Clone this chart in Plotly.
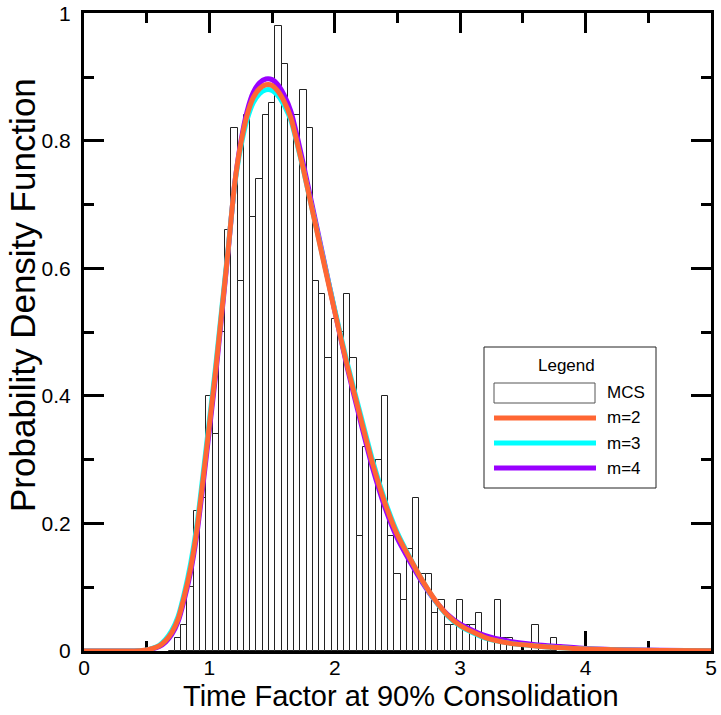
import plotly.graph_objects as go

# ---------------- data ----------------
bin_centers = [0.70, 0.75, 0.80, 0.85, 0.90, 0.95, 1.00, 1.05, 1.10, 1.15,
               1.20, 1.25, 1.30, 1.35, 1.40, 1.45, 1.50, 1.55, 1.60, 1.65,
               1.70, 1.75, 1.80, 1.85, 1.90, 1.95, 2.00, 2.05, 2.10, 2.15,
               2.20, 2.25, 2.30, 2.35, 2.40, 2.45, 2.50, 2.55, 2.60, 2.65,
               2.70, 2.75, 2.80, 2.85, 2.90, 2.95, 3.00, 3.05, 3.10, 3.15,
               3.20, 3.25, 3.30, 3.35, 3.40, 3.45, 3.50, 3.55, 3.60, 3.65,
               3.70, 3.75]
mcs_density = [0.00, 0.02, 0.04, 0.10, 0.22, 0.24, 0.40, 0.34, 0.50, 0.66,
               0.82, 0.58, 0.84, 0.68, 0.74, 0.84, 0.86, 0.98, 0.92, 0.84,
               0.84, 0.88, 0.82, 0.58, 0.56, 0.46, 0.52, 0.50, 0.56, 0.46,
               0.18, 0.32, 0.30, 0.30, 0.40, 0.18, 0.12, 0.08, 0.16, 0.24,
               0.12, 0.12, 0.06, 0.08, 0.04, 0.04, 0.08, 0.04, 0.04, 0.06,
               0.02, 0.02, 0.08, 0.02, 0.02, 0.00, 0.00, 0.00, 0.04, 0.00,
               0.00, 0.02]
bin_width = 0.05

curve_x = [0, 0.3, 0.45, 0.5, 0.55, 0.6, 0.65, 0.7, 0.75, 0.8, 0.85, 0.9, 0.95,
           1.0, 1.05, 1.1, 1.15, 1.2, 1.25, 1.3, 1.35, 1.4, 1.45, 1.5, 1.55,
           1.6, 1.65, 1.7, 1.75, 1.8, 1.9, 2.0, 2.1, 2.2, 2.3, 2.4, 2.5, 2.6,
           2.7, 2.8, 2.9, 3.0, 3.2, 3.4, 3.6, 3.8, 4.0, 4.3, 4.6, 5.0]
pdf_m2 = [0, 0, 0.0005, 0.0015, 0.004, 0.008, 0.016, 0.029, 0.05, 0.086, 0.13,
          0.19, 0.27, 0.355, 0.44, 0.535, 0.63, 0.73, 0.795, 0.84, 0.868,
          0.882, 0.888, 0.887, 0.877, 0.86, 0.836, 0.797, 0.755, 0.71, 0.62,
          0.532, 0.447, 0.37, 0.295, 0.232, 0.182, 0.145, 0.11, 0.08, 0.056,
          0.04, 0.021, 0.012, 0.008, 0.005, 0.003, 0.0015, 0.0008, 0.0003]
pdf_m3 = [0, 0, 0.0006, 0.0018, 0.0045, 0.009, 0.018, 0.032, 0.054, 0.091,
          0.137, 0.197, 0.278, 0.362, 0.447, 0.54, 0.632, 0.728, 0.79, 0.833,
          0.86, 0.874, 0.88, 0.879, 0.87, 0.854, 0.832, 0.795, 0.754, 0.71,
          0.622, 0.535, 0.451, 0.375, 0.30, 0.236, 0.185, 0.146, 0.11, 0.079,
          0.055, 0.039, 0.02, 0.012, 0.008, 0.005, 0.003, 0.0015, 0.0008, 0.0003]
pdf_m4 = [0, 0, 0.0004, 0.0012, 0.0035, 0.007, 0.014, 0.026, 0.046, 0.081,
          0.124, 0.183, 0.262, 0.347, 0.433, 0.53, 0.628, 0.73, 0.798, 0.846,
          0.876, 0.891, 0.897, 0.896, 0.887, 0.87, 0.846, 0.807, 0.763, 0.717,
          0.625, 0.533, 0.444, 0.364, 0.288, 0.225, 0.176, 0.14, 0.107, 0.079,
          0.057, 0.042, 0.024, 0.015, 0.01, 0.007, 0.004, 0.002, 0.001, 0.0005]

x_ticks = [0, 1, 2, 3, 4, 5]
x_tick_labels = ["0", "1", "2", "3", "4", "5"]
y_ticks = [0, 0.2, 0.4, 0.6, 0.8, 1.0]
y_tick_labels = ["0", "0.2", "0.4", "0.6", "0.8", "1"]

series_names = ["m=2", "m=3", "m=4"]
series_colors = ["#FF6633", "#00FFFF", "#9900FF"]

# ---------------- figure ----------------
W, H = 721, 715
ML, MR, MT, MB = 84, 10, 13, 64
font_family = "Liberation Sans, Arial, sans-serif"

fig = go.Figure()
fig.add_trace(go.Bar(x=bin_centers, y=mcs_density, width=bin_width,
                     marker=dict(color="white", line=dict(color="#222", width=1)),
                     name="MCS", showlegend=False))

# draw purple, cyan, then orange on top
for idx, ys in [(2, pdf_m4), (1, pdf_m3), (0, pdf_m2)]:
    fig.add_trace(go.Scatter(x=curve_x, y=ys, mode="lines",
                             line=dict(color=series_colors[idx], width=5, shape="spline", smoothing=0.6),
                             name=series_names[idx], showlegend=False, cliponaxis=False))

axis_common = dict(showline=True, linecolor="black", linewidth=3, mirror="ticks",
                   ticks="inside", ticklen=20, tickwidth=3, tickcolor="black",
                   showgrid=False, zeroline=False, automargin=False,
                   tickfont=dict(family=font_family, size=21, color="black"),
                   layer="below traces")
fig.update_xaxes(range=[0, 5.0001], tickmode="array", tickvals=x_ticks, ticktext=x_tick_labels,
                 minor=dict(dtick=0.5, ticks="inside", ticklen=10, tickwidth=3, tickcolor="black"),
                 ticklabelstandoff=-4, **axis_common)
fig.update_yaxes(range=[0, 1.0005], tickmode="array", tickvals=y_ticks, ticktext=y_tick_labels,
                 minor=dict(dtick=0.1, ticks="inside", ticklen=10, tickwidth=3, tickcolor="black"),
                 ticklabelstandoff=6, **axis_common)

pw, ph = W - ML - MR, H - MT - MB
def px(xp):
    return (xp - ML) / pw
def py(yp):
    return (H - MB - yp) / ph

annotations = [
    dict(text="Time Factor at 90% Consolidation", x=px(401), y=py(696), xref="paper", yref="paper",
         showarrow=False, font=dict(family=font_family, size=29, color="black"),
         xanchor="center", yanchor="middle"),
    dict(text="Probability Density Function", x=px(22), y=py(295), xref="paper", yref="paper",
         showarrow=False, textangle=-90, font=dict(family=font_family, size=35, color="black"),
         xanchor="center", yanchor="middle"),
    dict(text="Legend", x=px(566), y=py(366), xref="paper", yref="paper", showarrow=False,
         font=dict(family=font_family, size=17, color="black"), xanchor="center", yanchor="middle"),
    dict(text="MCS", x=px(605), y=py(392), xref="paper", yref="paper", showarrow=False,
         font=dict(family=font_family, size=17, color="black"), xanchor="left", yanchor="middle"),
]
shapes = [
    dict(type="rect", xref="paper", yref="paper", x0=px(484), x1=px(656), y0=py(488), y1=py(347),
         line=dict(color="#222", width=1), fillcolor="white", layer="above"),
    dict(type="rect", xref="paper", yref="paper", x0=px(494), x1=px(595), y0=py(403), y1=py(383),
         line=dict(color="#555", width=1), fillcolor="white", layer="above"),
]
legend_rows = [418, 443, 468]
for name, color, yrow in zip(series_names, series_colors, legend_rows):
    shapes.append(dict(type="line", xref="paper", yref="paper", x0=px(494), x1=px(596),
                       y0=py(yrow), y1=py(yrow), line=dict(color=color, width=5), layer="above"))
    annotations.append(dict(text=name, x=px(605), y=py(yrow), xref="paper", yref="paper",
                            showarrow=False, font=dict(family=font_family, size=17, color="black"),
                            xanchor="left", yanchor="middle"))

fig.update_layout(width=W, height=H, margin=dict(l=ML, r=MR, t=MT, b=MB, autoexpand=False),
                  paper_bgcolor="white", plot_bgcolor="white", bargap=0,
                  showlegend=False, annotations=annotations, shapes=shapes)

fig.write_html("out.html")
